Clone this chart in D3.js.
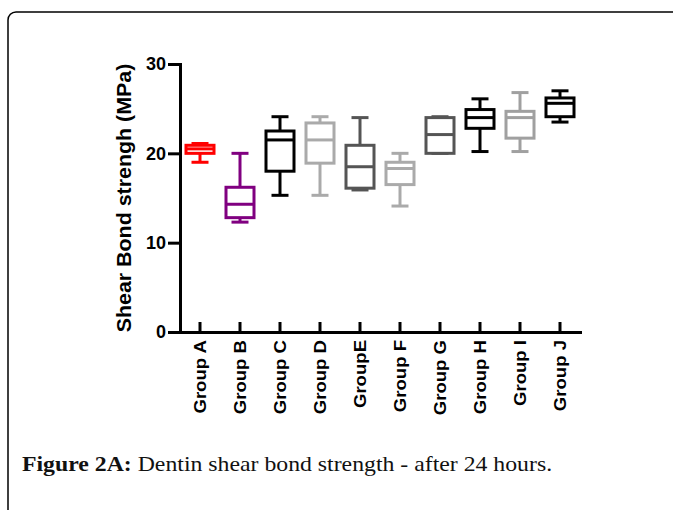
<!DOCTYPE html>
<html>
<head>
<meta charset="utf-8">
<script src="https://cdn.jsdelivr.net/npm/d3@7"></script>
<style>
  body { margin: 0; background: #fff; }
  svg { display: block; }
  .axis text { font-family: "Liberation Sans", Arial, sans-serif; font-weight: bold; fill: #000; }
</style>
</head>
<body>
<div id="chart"></div>
<script>
// values (MPa)
const groups  = ["Group A", "Group B", "Group C", "Group D", "GroupE", "Group F", "Group G", "Group H", "Group I", "Group J"];
const mins    = [19.0, 12.3, 15.3, 15.3, 15.9, 14.1, 20.0, 20.2, 20.2, 23.5];
const q1s     = [20.0, 12.8, 18.0, 18.9, 16.1, 16.5, 20.0, 22.8, 21.7, 24.1];
const medians = [20.5, 14.3, 21.5, 21.5, 18.5, 18.3, 22.1, 24.0, 24.0, 25.6];
const q3s     = [20.9, 16.2, 22.5, 23.4, 20.9, 19.0, 24.0, 24.9, 24.7, 26.2];
const maxs    = [21.1, 20.0, 24.1, 24.1, 24.0, 20.0, 24.1, 26.1, 26.8, 27.0];
const colors  = ["#ff0000", "#800080", "#000000", "#aaaaaa", "#555555", "#aaaaaa", "#555555", "#000000", "#a0a0a0", "#000000"];
const yTicks  = [0, 10, 20, 30];

const W = 673, H = 510;
let margin = {top: 64, left: 180, right: 93, bottom: 178},
    plotW = W - margin.left - margin.right,
    plotH = H - margin.top - margin.bottom,
    boxW = 28,
    capW = 17;

// stretch a text node horizontally (the source figure uses a wide font)
function stretch(sel, factor) {
    sel.each(function () {
        let len = this.getComputedTextLength();
        d3.select(this).attr("textLength", len * factor).attr("lengthAdjust", "spacingAndGlyphs");
    });
}

let svg = d3.select("#chart").append("svg")
    .attr("width", W)
    .attr("height", H);

// card outline, runs off the right and bottom edges
svg.append("rect")
    .attr("x", 8).attr("y", 12)
    .attr("width", 720).attr("height", 560)
    .attr("rx", 8)
    .attr("fill", "none")
    .attr("stroke", "#000")
    .attr("stroke-width", 1.5);

let x = d3.scaleBand().domain(groups).range([margin.left, margin.left + plotW]).padding(0),
    y = d3.scaleLinear().domain([0, 30]).range([margin.top + plotH, margin.top]);

let data = groups.map((g, i) => ({
    group: g, min: mins[i], q1: q1s[i], median: medians[i], q3: q3s[i], max: maxs[i], color: colors[i]
}));

// boxes
let box = svg.append("g")
    .selectAll("g")
    .data(data)
    .join("g")
    .attr("transform", d => `translate(${x(d.group) + x.bandwidth() / 2},0)`)
    .attr("stroke", d => d.color)
    .attr("stroke-width", 3)
    .attr("fill", "none");

box.append("line").attr("x1", 0).attr("x2", 0).attr("y1", d => y(d.max)).attr("y2", d => y(d.q3));
box.append("line").attr("x1", 0).attr("x2", 0).attr("y1", d => y(d.q1)).attr("y2", d => y(d.min));
box.append("line").attr("x1", -capW / 2).attr("x2", capW / 2).attr("y1", d => y(d.max)).attr("y2", d => y(d.max));
box.append("line").attr("x1", -capW / 2).attr("x2", capW / 2).attr("y1", d => y(d.min)).attr("y2", d => y(d.min));
box.append("rect")
    .attr("x", -boxW / 2)
    .attr("width", boxW)
    .attr("y", d => y(d.q3))
    .attr("height", d => y(d.q1) - y(d.q3))
    .attr("fill", "#fff");
box.append("line").attr("x1", -boxW / 2).attr("x2", boxW / 2).attr("y1", d => y(d.median)).attr("y2", d => y(d.median));

// y axis
let yAxis = svg.append("g")
    .attr("class", "axis")
    .attr("transform", `translate(${margin.left},0)`)
    .call(d3.axisLeft(y).tickValues(yTicks).tickSize(12).tickSizeOuter(0).tickPadding(2));
yAxis.selectAll("path, line").attr("stroke", "#000").attr("stroke-width", 3);
yAxis.select(".domain").attr("stroke-linecap", "square");
yAxis.selectAll("text").attr("font-size", 18);

// x axis, ticks point up into the plot
let xAxis = svg.append("g")
    .attr("class", "axis")
    .attr("transform", `translate(0,${margin.top + plotH})`)
    .call(d3.axisBottom(x).tickSize(-10).tickSizeOuter(0).tickPadding(0));
xAxis.selectAll("path, line").attr("stroke", "#000").attr("stroke-width", 3);
xAxis.select(".domain").attr("stroke-linecap", "square");
xAxis.selectAll("text")
    .attr("font-size", 16)
    .attr("transform", "rotate(-90)")
    .attr("text-anchor", "end")
    .attr("dy", "0.35em")
    .attr("x", -8)
    .attr("y", 0)
    .call(stretch, 1.16);

// y axis title
svg.append("text")
    .attr("transform", `translate(131,${(margin.top + margin.top + plotH) / 2}) rotate(-90)`)
    .attr("text-anchor", "middle")
    .attr("font-family", "Liberation Sans, Arial, sans-serif")
    .attr("font-weight", "bold")
    .attr("font-size", 20)
    .text("Shear Bond strengh (MPa)")
    .call(stretch, 1.07);

// caption
let cap = svg.append("text")
    .attr("x", 22)
    .attr("y", 471)
    .attr("font-family", "Liberation Serif, Times New Roman, serif")
    .attr("font-size", 22)
    .attr("fill", "#111");
cap.append("tspan").attr("font-weight", "bold").text("Figure 2A:").call(stretch, 1.08);
cap.append("tspan").text(" Dentin shear bond strength - after 24 hours.").call(stretch, 1.08);
</script>
</body>
</html>
